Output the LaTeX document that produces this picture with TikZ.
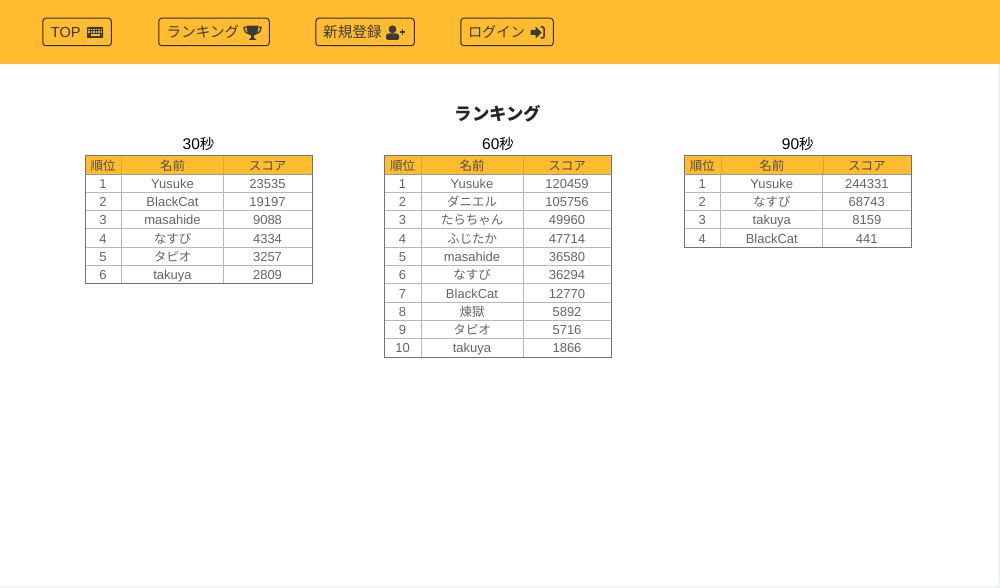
\documentclass[tikz,border=0pt]{standalone}
\usepackage{fontspec}
\setmainfont{Liberation Sans}
\newfontfamily\jpfont{Noto Sans CJK JP}
\newcommand{\jp}[1]{{\jpfont\fontsize{12.5}{12.5}\selectfont #1}}
\definecolor{barcol}{HTML}{FFBC2E}
\definecolor{inkcol}{HTML}{3A3A3A}
\definecolor{edgecol}{HTML}{F0F3F3}
\tikzset{
    navbtn/.style={draw=inkcol!80!black,line width=1pt,rounded corners=3pt,minimum height=27.5pt,inner sep=0pt,anchor=west},
    navtext/.style={inner sep=0pt,anchor=base west,text=inkcol,font=\fontsize{14.6}{14.6}\selectfont},
    cell/.style={inner sep=0pt,anchor=base,text=inkcol!78,font=\fontsize{13}{13}\selectfont},
    headcell/.style={cell,text=inkcol!90},
    rowline/.style={draw=black!28,line width=.9pt},
    frameline/.style={draw=black!55,line width=.95pt},
    icon/.style={fill=inkcol,draw=none}
}
% one table: name, left edge, title digits, rows
\newcommand{\ranktable}[4]{
    \node[inner sep=0pt,anchor=base,font=\fontsize{15.5}{15.5}\selectfont] (#1title) at (#2+113.5,150) {#3{\jpfont\fontsize{14.5}{14.5}\selectfont 秒}};
    \fill[barcol] (#2,155) rectangle (#2+227,174);
    \node[headcell] (#1h1) at (#2+18,170.2) {\jp{順位}};
    \node[headcell] (#1h2) at (#2+87.5,170.2) {\jp{名前}};
    \node[headcell] (#1h3) at (#2+182.5,170.2) {\jp{スコア}};
    \foreach \rank/\player/\score [count=\i] in {#4} {
        \pgfmathsetmacro{\ytop}{174+18.3*(\i-1)}
        \pgfmathsetmacro{\ybase}{\ytop+14.2}
        \pgfmathsetmacro{\ybot}{\ytop+18.3}
        \node[cell] (#1r\i a) at (#2+18,\ybase) {\rank};
        \node[cell] (#1r\i b) at (#2+87.5,\ybase) {\player};
        \node[cell] (#1r\i c) at (#2+182.5,\ybase) {\score};
        \draw[rowline] (#2,\ybot) -- (#2+227,\ybot);
        \draw[rowline] (#2+36.5,\ytop) -- (#2+36.5,\ybot);
        \draw[rowline] (#2+138.5,\ytop) -- (#2+138.5,\ybot);
        \xdef\lastbot{\ybot}
    }
    \draw[draw=barcol!88!black,line width=.5pt] (#2+36.5,155) -- (#2+36.5,174) (#2+138.5,155) -- (#2+138.5,174);
    \draw[frameline] (#2,155) rectangle (#2+227,\lastbot);
    \draw[draw=black!40,line width=.7pt] (#2,174) -- (#2+227,174);
}
\begin{document}
\begin{tikzpicture}[x=1pt,y=-1pt]
    \useasboundingbox (0,0) rectangle (1000,588);
    \fill[white] (0,0) rectangle (1000,588);
    \fill[edgecol] (998,64) rectangle (1000,588);
    \fill[edgecol] (0,586) rectangle (1000,588);
    \fill[barcol] (0,0) rectangle (1000,64);

    % nav bar
    \node[navbtn,minimum width=68.5pt] (top) at (42.3,32) {};
    \node[navbtn,minimum width=110.5pt] (rank) at (158.3,32) {};
    \node[navbtn,minimum width=98.5pt] (signup) at (315.3,32) {};
    \node[navbtn,minimum width=92.5pt] (login) at (460.3,32) {};
    \node[navtext] (toptext) at (50.7,37.8) {TOP};
    \node[navtext] (ranktext) at (166.5,37.6) {\jp{\fontsize{14.6}{14.6}\selectfont ランキング}};
    \node[navtext] (signuptext) at (323,38) {\jp{\fontsize{14.6}{14.6}\selectfont 新規登録}};
    \node[navtext] (logintext) at (467.8,37.6) {\jp{\fontsize{14.2}{14.2}\selectfont ログイン}};

    % keyboard
    \fill[icon,rounded corners=.8pt] (87,27) rectangle (103,38);
    \foreach \kx in {88.4,90.9,93.4,95.9,98.4,100.6}
        \foreach \ky in {28.8,31.4}
            \fill[barcol] (\kx,\ky) rectangle +(1.4,1.3);
    \fill[barcol] (91,34.2) rectangle (99.5,35.6);
    % trophy
    \draw[inkcol,line width=1.3pt] (246.5,27.3) -- (244,27.3) .. controls (244,31.5) and (246.5,33.5) .. (250,34);
    \draw[inkcol,line width=1.3pt] (258.5,27.3) -- (261,27.3) .. controls (261,31.5) and (258.5,33.5) .. (255,34);
    \fill[icon] (246.5,25.7) -- (258.5,25.7) .. controls (258.5,32) and (256.5,35) .. (253.8,35.5) -- (253.8,37.6) -- (256.5,40) -- (248.5,40) -- (251.2,37.6) -- (251.2,35.5) .. controls (248.5,35) and (246.5,32) .. (246.5,25.7) -- cycle;
    % user plus
    \fill[icon] (392.5,29.3) circle (3.9);
    \fill[icon,rounded corners=1.5pt] (386,40) -- (386,37) .. controls (386,34.5) and (388,33.5) .. (390,33.5) -- (395,33.5) .. controls (397,33.5) and (399,34.5) .. (399,37) -- (399,40) -- cycle;
    \fill[icon] (399.5,31.2) rectangle (405,32.8);
    \fill[icon] (401.5,29.2) rectangle (403.1,34.8);
    % sign in
    \fill[icon] (530.5,30) -- (535.5,30) -- (535.5,26.5) -- (541.5,32.5) -- (535.5,38.5) -- (535.5,35) -- (530.5,35) -- cycle;
    \draw[inkcol,line width=1.5pt,rounded corners=1.5pt] (540.5,27) -- (544.2,27) -- (544.2,38) -- (540.5,38);

    \node[font=\jpfont\bfseries\fontsize{17.4}{17.4}\selectfont,text=black!85,inner sep=0pt] (heading) at (498,114) {ランキング};

    \ranktable{a}{85}{30}{1/Yusuke/23535,2/BlackCat/19197,3/masahide/9088,4/\jp{なすび}/4334,5/\jp{タピオ}/3257,6/takuya/2809}
    \ranktable{b}{384.5}{60}{1/Yusuke/120459,2/\jp{ダニエル}/105756,3/\jp{たらちゃん}/49960,4/\jp{ふじたか}/47714,5/masahide/36580,6/\jp{なすび}/36294,7/BlackCat/12770,8/\jp{煉獄}/5892,9/\jp{タピオ}/5716,10/takuya/1866}
    \ranktable{c}{684.3}{90}{1/Yusuke/244331,2/\jp{なすび}/68743,3/takuya/8159,4/BlackCat/441}
\end{tikzpicture}
\end{document}
